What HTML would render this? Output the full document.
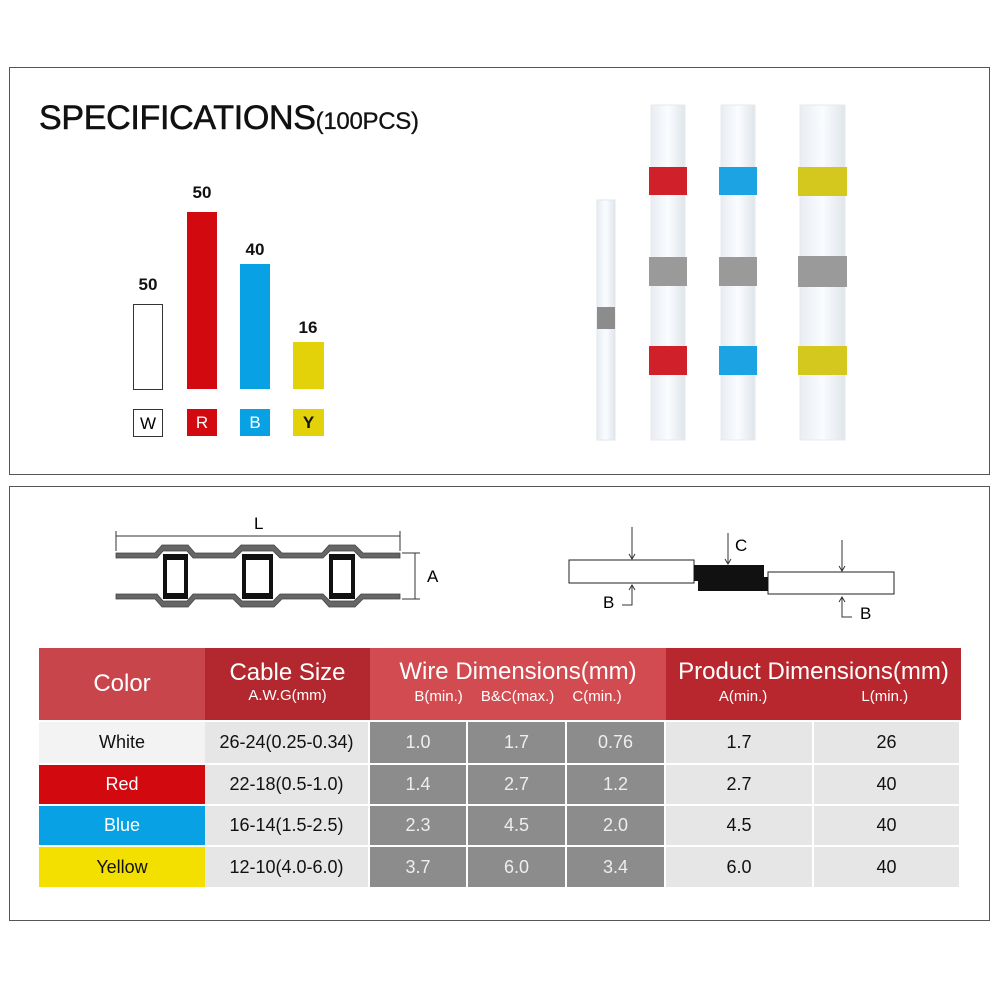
<!DOCTYPE html>
<html><head><meta charset="utf-8"><style>
body{margin:0;width:1000px;height:1000px;background:#fff;position:relative;overflow:hidden;font-family:"Liberation Sans",sans-serif}
.a{position:absolute}
.box{position:absolute;border:1px solid #555;background:#fff}
.n{position:absolute;font-size:17px;font-weight:bold;color:#111;text-align:center;width:40px}
.lb{position:absolute;top:409px;width:29px;height:27px;font-size:17px;text-align:center;line-height:28px}
table{position:absolute;left:39px;top:648px;border-collapse:separate;border-spacing:0;font-family:"Liberation Sans Narrow","Liberation Sans",sans-serif}
td{text-align:center;padding:0;font-size:18px;color:#111}
.h{color:#fff}
.g{background:#8c8c8c;color:#eee;border-right:2px solid #fff}
.p{background:#e6e6e6;border-right:2px solid #fff}
tr.r td{border-top:2px solid #fff}
</style></head><body>
<div class="box" style="left:9px;top:67px;width:979px;height:406px"></div>
<div class="box" style="left:9px;top:486px;width:979px;height:433px"></div>

<div class="a" style="left:39px;top:99px;font-size:34px;color:#111;letter-spacing:-0.3px;-webkit-text-stroke:0.6px #111">SPECIFICATIONS<span style="font-size:24px;-webkit-text-stroke:0.3px #111">(100PCS)</span></div>

<div class="n" style="left:128px;top:275px">50</div>
<div class="n" style="left:182px;top:183px">50</div>
<div class="n" style="left:235px;top:240px">40</div>
<div class="n" style="left:288px;top:318px">16</div>
<div class="a" style="left:133px;top:304px;width:28px;height:84px;border:1px solid #333"></div>
<div class="a" style="left:187px;top:212px;width:30px;height:177px;background:#d20a0f"></div>
<div class="a" style="left:240px;top:264px;width:30px;height:125px;background:#08a2e4"></div>
<div class="a" style="left:293px;top:342px;width:31px;height:47px;background:#e3d20a"></div>
<div class="lb" style="left:133px;border:1px solid #333;width:28px;height:26px">W</div>
<div class="lb" style="left:187px;background:#d20a0f;color:#fff;width:30px">R</div>
<div class="lb" style="left:240px;background:#08a2e4;color:#fff;width:30px">B</div>
<div class="lb" style="left:293px;background:#e3d20a;color:#111;width:31px;font-weight:bold">Y</div>

<svg class="a" style="left:0;top:0" width="1000" height="1000">
<defs><linearGradient id="tg" x1="0" x2="1"><stop offset="0" stop-color="#e8edf2"/><stop offset="0.5" stop-color="#fafcff"/><stop offset="1" stop-color="#dfe5ea"/></linearGradient></defs>
<rect x="597" y="200" width="18" height="240" fill="url(#tg)" stroke="#e3e6ea"/>
<rect x="597" y="307" width="18" height="22" fill="#8c8c8c"/>
<rect x="651" y="105" width="34" height="335" fill="url(#tg)" stroke="#e6e9ed"/>
<rect x="649" y="167" width="38" height="28" fill="#d0202a"/>
<rect x="649" y="257" width="38" height="29" fill="#9a9a9a"/>
<rect x="649" y="346" width="38" height="29" fill="#d0202a"/>
<rect x="721" y="105" width="34" height="335" fill="url(#tg)" stroke="#e6e9ed"/>
<rect x="719" y="167" width="38" height="28" fill="#1ba3e3"/>
<rect x="719" y="257" width="38" height="29" fill="#9a9a9a"/>
<rect x="719" y="346" width="38" height="29" fill="#1ba3e3"/>
<rect x="800" y="105" width="45" height="335" fill="url(#tg)" stroke="#e6e9ed"/>
<rect x="798" y="167" width="49" height="29" fill="#d4c81e"/>
<rect x="798" y="256" width="49" height="31" fill="#9a9a9a"/>
<rect x="798" y="346" width="49" height="29" fill="#d4c81e"/>

<!-- left diagram -->
<g stroke="#333" fill="none">
<line x1="116" y1="536" x2="400" y2="536"/>
<line x1="116" y1="531" x2="116" y2="551"/>
<line x1="400" y1="531" x2="400" y2="551"/>
<line x1="402" y1="553" x2="420" y2="553"/><line x1="402" y1="599" x2="420" y2="599"/>
<line x1="415" y1="553" x2="415" y2="599"/>
</g>
<text x="254" y="529" font-size="17" font-family="Liberation Sans">L</text>
<text x="427" y="582" font-size="17" font-family="Liberation Sans">A</text>
<g fill="#666" stroke="#444" stroke-width="0.8">
<path d="M116 553 H155 L162 545 H188 L195 553 H233 L241 545 H274 L282 553 H322 L329 545 H355 L363 553 H400 V558 H361 L354 551 H330 L323 558 H280 L273 551 H242 L235 558 H193 L187 551 H163 L157 558 H116Z"/>
<path d="M116 599 H155 L162 607 H188 L195 599 H233 L241 607 H274 L282 599 H322 L329 607 H355 L363 599 H400 V594 H361 L354 601 H330 L323 594 H280 L273 601 H242 L235 594 H193 L187 601 H163 L157 594 H116Z"/>
</g>
<g fill="#111">
<rect x="163" y="554" width="25" height="45"/><rect x="242" y="554" width="31" height="45"/><rect x="329" y="554" width="26" height="45"/>
</g>
<g fill="#fff">
<rect x="167" y="560" width="17" height="33"/><rect x="246" y="560" width="23" height="33"/><rect x="333" y="560" width="18" height="33"/>
</g>
<!-- right diagram -->
<g stroke="#222" fill="#fff" stroke-width="1">
<rect x="569" y="560" width="125" height="23"/>
<rect x="768" y="572" width="126" height="22"/>
</g>
<path d="M694 565 H764 V577 H768 V591 H698 V581 H694Z" fill="#111"/>
<g stroke="#333" fill="none">
<line x1="632" y1="527" x2="632" y2="559"/><path d="M629 554 L632 559 L635 554"/>
<line x1="728" y1="533" x2="728" y2="564"/><path d="M725 559 L728 564 L731 559"/>
<line x1="842" y1="540" x2="842" y2="571"/><path d="M839 566 L842 571 L845 566"/>
<path d="M622 605 H632 V585"/><path d="M629 590 L632 585 L635 590"/>
<path d="M852 617 H842 V597"/><path d="M839 602 L842 597 L845 602"/>
</g>
<text x="735" y="551" font-size="17" font-family="Liberation Sans">C</text>
<text x="603" y="608" font-size="17" font-family="Liberation Sans">B</text>
<text x="860" y="619" font-size="17" font-family="Liberation Sans">B</text>
</svg>

<table>
<tr style="height:72px">
<td class="h" rowspan="2" style="width:166px;background:#c8454b;font-size:24px">Color</td>
<td class="h" rowspan="2" style="width:165px;background:#b2282e;line-height:20px"><span style="font-size:24px">Cable Size</span><br><span style="font-size:15px">A.W.G(mm)</span></td>
<td class="h" colspan="3" style="background:#d24b50;line-height:22px"><span style="font-size:24px">Wire Dimensions(mm)</span><br><span style="font-size:15px;word-spacing:14px">B(min.) B&amp;C(max.) C(min.)</span></td>
<td class="h" colspan="2" style="background:#b8272d;line-height:22px"><span style="font-size:24px">Product Dimensions(mm)</span><br><span style="font-size:15px;word-spacing:90px">A(min.) L(min.)</span></td>
</tr>
<tr></tr>
<tr class="r" style="height:43px"><td style="background:#f3f3f3">White</td><td class="p">26-24(0.25-0.34)</td><td class="g" style="width:96px">1.0</td><td class="g" style="width:97px">1.7</td><td class="g" style="width:97px">0.76</td><td class="p" style="width:146px">1.7</td><td class="p" style="width:145px">26</td></tr>
<tr class="r" style="height:41px"><td style="background:#d20a0f;color:#fff">Red</td><td class="p">22-18(0.5-1.0)</td><td class="g">1.4</td><td class="g">2.7</td><td class="g">1.2</td><td class="p">2.7</td><td class="p">40</td></tr>
<tr class="r" style="height:41px"><td style="background:#08a2e4;color:#fff">Blue</td><td class="p">16-14(1.5-2.5)</td><td class="g">2.3</td><td class="g">4.5</td><td class="g">2.0</td><td class="p">4.5</td><td class="p">40</td></tr>
<tr class="r" style="height:42px"><td style="background:#f3e000">Yellow</td><td class="p">12-10(4.0-6.0)</td><td class="g">3.7</td><td class="g">6.0</td><td class="g">3.4</td><td class="p">6.0</td><td class="p">40</td></tr>
</table>
</body></html>
